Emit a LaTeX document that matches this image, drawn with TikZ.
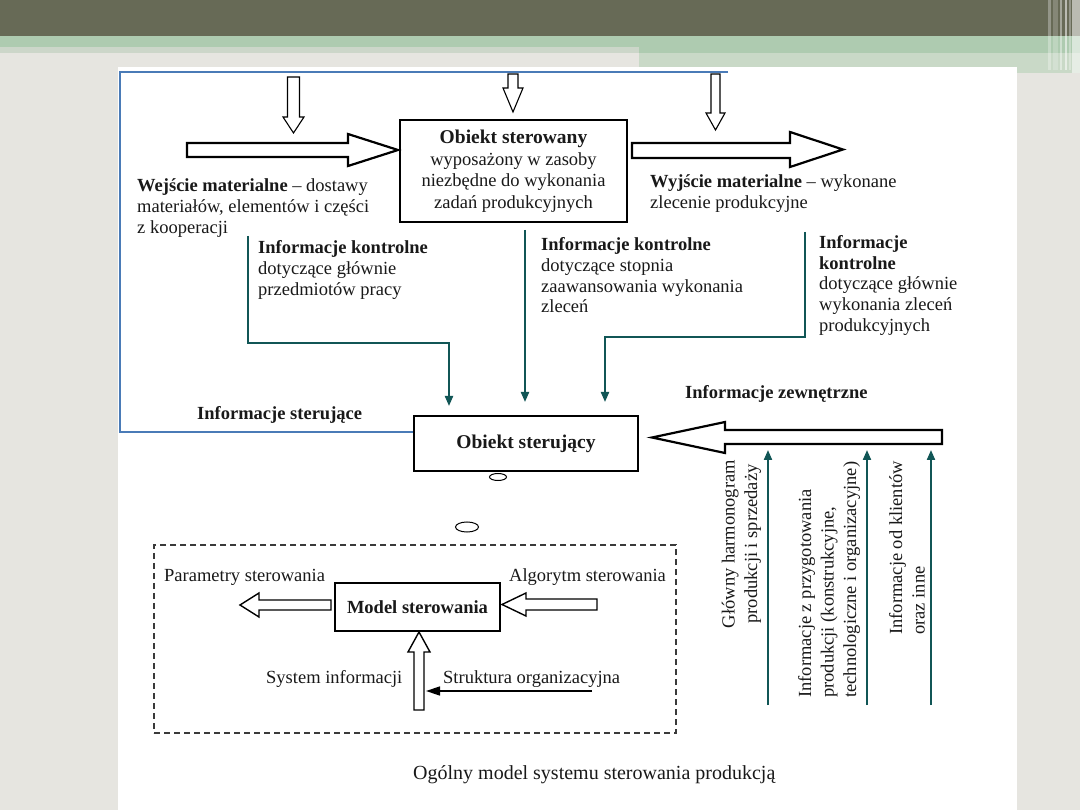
\documentclass[tikz,border=0pt]{standalone}
\usepackage{fontspec}
\setmainfont{Liberation Serif}
\usetikzlibrary{arrows.meta,shapes.geometric}
\definecolor{hdark}{HTML}{676A56}
\definecolor{hgreen}{HTML}{AECBB0}
\definecolor{hlight}{HTML}{C9D9C7}
\definecolor{hpale}{HTML}{CCD6C9}
\definecolor{bggray}{HTML}{E6E5E0}
\definecolor{tealline}{HTML}{115656}
\definecolor{blueline}{HTML}{4A7BB7}
\definecolor{dashgray}{HTML}{3A3A3A}
\begin{document}
\begin{tikzpicture}[x=1pt,y=-1pt,
  every node/.style={font=\fontsize{18.5}{21.5}\selectfont, inner sep=0pt, text=black!90},
  box/.style={draw, line width=2.2pt, fill=white},
  hollow/.style={draw, fill=white, line width=2.2pt, line join=miter},
  thinhollow/.style={draw, fill=white, line width=1.1pt, line join=miter},
  midhollow/.style={draw, fill=white, line width=1.4pt, line join=miter},
  ctrl/.style={draw=tealline, line width=2pt, -{Triangle[width=8pt,length=10pt]}},
  lbl/.style={anchor=base west},
  rot/.style={rotate=90, font=\fontsize{18.5}{22.5}\selectfont},
  heading/.style={font=\fontsize{19.5}{21.5}\selectfont\bfseries}
]
\useasboundingbox (0,0) rectangle (1080,810);
% ---------- background ----------
\fill[bggray] (0,0) rectangle (1080,810);
\fill[hdark] (0,0) rectangle (1080,36);
\fill[hgreen] (0,36) rectangle (1080,53);
\fill[hpale] (0,47) rectangle (639,53);
\fill[hlight] (639,53) rectangle (1080,73);
\fill[white] (118,67) rectangle (1017,810);
\fill[white,opacity=0.30] (1048,0) rectangle (1051,70);
\fill[white,opacity=0.20] (1053,0) rectangle (1058,70);
\fill[white,opacity=0.40] (1060,0) rectangle (1062,70);
\fill[white,opacity=0.55] (1065,0) rectangle (1067,70);
\fill[white,opacity=0.30] (1069,0) rectangle (1071,70);
\fill[white,opacity=0.55] (1072,0) rectangle (1080,73);

% ---------- main boxes ----------
\node[box, minimum width=227pt, minimum height=102pt, align=center] (os) at (513.5,171)
  {{\fontsize{19.5}{21.5}\selectfont\bfseries Obiekt sterowany}\\ wyposażony w zasoby\\ niezbędne do wykonania\\ zadań produkcyjnych};
\node[box, minimum width=224pt, minimum height=55pt, heading] (ost) at (526,443.5) {Obiekt sterujący};

% ---------- blue feedback line ----------
\coordinate (bl) at (728,72);
\draw[blueline, line width=1.5pt] (bl) -- (120,72) -- (120,432) -- (ost.west |- 120,432);

% ---------- top hollow arrows ----------
\draw[thinhollow] (287.5,77) -- (299.5,77) -- (299.5,117) -- (304,117) -- (293.5,133) -- (283,117) -- (287.5,117) -- cycle;
\draw[thinhollow] (508,74) -- (518,74) -- (518,88) -- (523,88) -- (513,112) -- (503,88) -- (508,88) -- cycle;
\draw[thinhollow] (711,74) -- (720,74) -- (720,113) -- (725,113) -- (715.5,130) -- (706,113) -- (711,113) -- cycle;

% ---------- material flow arrows ----------
\draw[hollow] (187,143) -- (348,143) -- (348,134) -- (398,150) -- (348,166) -- (348,157) -- (187,157) -- cycle;
\draw[hollow] (632,143) -- (790,143) -- (790,132) -- (843,149.5) -- (790,167) -- (790,158) -- (632,158) -- cycle;
\draw[hollow] (942,430) -- (725,430) -- (725,422) -- (652,437.5) -- (725,453) -- (725,444) -- (942,444) -- cycle;

% ---------- texts top ----------
\node[lbl] (w1) at (137,192) {\textbf{Wejście materialne} – dostawy};
\node[lbl] (w2) at (137,213) {materiałów, elementów i części};
\node[lbl] (w3) at (137,234) {z kooperacji};

\node[lbl] (y1) at (650,188) {\textbf{Wyjście materialne} – wykonane};
\node[lbl] (y2) at (650,209) {zlecenie produkcyjne};

\node[lbl] (a1) at (258,254) {\textbf{Informacje kontrolne}};
\node[lbl] (a2) at (258,275) {dotyczące głównie};
\node[lbl] (a3) at (258,296) {przedmiotów pracy};

\node[lbl] (b1) at (541,251) {\textbf{Informacje kontrolne}};
\node[lbl] (b2) at (541,272) {dotyczące stopnia};
\node[lbl] (b3) at (541,293) {zaawansowania wykonania};
\node[lbl] (b4) at (541,313) {zleceń};

\node[lbl] (c1) at (819,249) {\textbf{Informacje}};
\node[lbl] (c2) at (819,270) {\textbf{kontrolne}};
\node[lbl] (c3) at (819,290) {dotyczące głównie};
\node[lbl] (c4) at (819,311) {wykonania zleceń};
\node[lbl] (c5) at (819,332) {produkcyjnych};

\node[lbl] (ster) at (197,420) {\textbf{Informacje sterujące}};
\node[lbl] (zew) at (685,399) {\textbf{Informacje zewnętrzne}};

% ---------- control information lines ----------
\coordinate (s1) at (248,236);
\coordinate (e1) at (449,406);
\coordinate (s2) at (525,230);
\coordinate (e2) at (525,402);
\coordinate (s3) at (805,232);
\coordinate (e3) at (605,402);
\draw[ctrl] (s1) -- (248,343) -| (e1);
\draw[ctrl] (s2) -- (e2);
\draw[ctrl] (s3) -- (805,337) -| (e3);

% ---------- external information ----------
\coordinate (u1) at (768,705);
\coordinate (u2) at (867,705);
\coordinate (u3) at (931,705);
\draw[ctrl] (u1) -- (768,450);
\draw[ctrl] (u2) -- (867,450);
\draw[ctrl] (u3) -- (931,450);

\node[rot, align=center] (r1) at (741.5,544) {Główny harmonogram\\produkcji i sprzedaży};
\node[rot, align=left, anchor=west] (r2) at (829,698) {Informacje z przygotowania\\produkcji (konstrukcyjne,\\technologiczne i organizacyjne)};
\node[rot, align=left, anchor=west] (r3) at (907,635) {Informacje od klientów\\oraz inne};

% ---------- small ellipses ----------
\node[draw, ellipse, line width=1pt, minimum width=17pt, minimum height=7pt] (el1) at (498,477) {};
\node[draw, ellipse, line width=1pt, minimum width=23pt, minimum height=10pt] (el2) at (467,527) {};

% ---------- control model (dashed) ----------
\node[draw=dashgray, dash pattern=on 6pt off 4pt, line width=1.2pt, minimum width=522pt, minimum height=188pt] (db) at (415,639) {};
\node[draw, line width=2pt, fill=white, minimum width=165pt, minimum height=48pt, font=\fontsize{18.5}{21.5}\selectfont\bfseries] (ms) at (417.5,607) {Model sterowania};

\draw[midhollow] (331,600) -- (259,600) -- (259,593) -- (240,605) -- (259,617) -- (259,610) -- (331,610) -- cycle;
\draw[midhollow] (597,599) -- (526,599) -- (526,593) -- (502,604.5) -- (526,616) -- (526,610) -- (597,610) -- cycle;
\draw[midhollow] (414,710) -- (414,652) -- (408,652) -- (419,632) -- (430,652) -- (424,652) -- (424,710) -- cycle;

\coordinate (sa) at (592,691);
\coordinate (sb) at (426,691);
\draw[line width=1.5pt, -{Triangle[width=9pt,length=14pt]}] (sa) -- (sb);

\node[lbl] (p1) at (164,581) {Parametry sterowania};
\node[lbl] (p2) at (509,581) {Algorytm sterowania};
\node[lbl] (p3) at (266,683) {System informacji};
\node[lbl] (p4) at (443,683) {Struktura organizacyjna};

% ---------- caption ----------
\node[lbl, font=\fontsize{20}{24}\selectfont] (cap) at (413,779) {Ogólny model systemu sterowania produkcją};
\end{tikzpicture}
\end{document}
